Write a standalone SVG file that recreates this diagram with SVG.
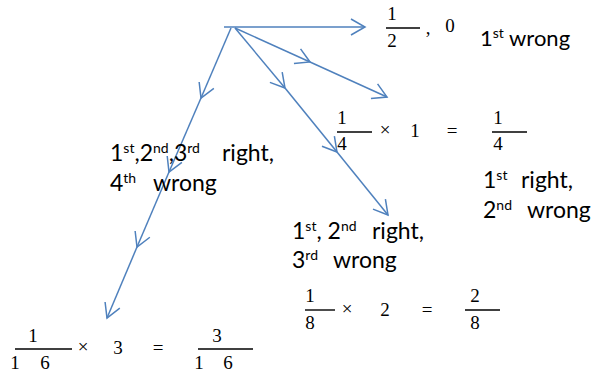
<svg xmlns="http://www.w3.org/2000/svg" width="592" height="373" viewBox="0 0 592 373">
<style>
.c{fill:none;stroke:#4f81bd;stroke-width:1.5;marker-end:url(#ah)}
.m{font-family:"Liberation Serif",serif;font-size:19px;fill:#000;text-anchor:middle}
.b{stroke:#000;stroke-width:1.4}
.t{font-family:Lato,"Liberation Sans",sans-serif;font-size:23px;fill:#000}
.s{font-size:14px}
</style>
<defs>
<marker id="ah" markerUnits="userSpaceOnUse" viewBox="-16 -10 18 20" markerWidth="18" markerHeight="20" refX="0" refY="0" orient="auto">
<path d="M-14,-8 L0,0 L-14,8" fill="none" stroke="#4f81bd" stroke-width="1.5"/>
</marker>
</defs>
<rect width="592" height="373" fill="#fff"/>
<g id="connectors">
<path class="c" d="M224,27 L365,27"/>
<path class="c" d="M235,28 L310,62"/>
<path class="c" d="M310,62 L387,97"/>
<path class="c" d="M235,28 L285,88"/>
<path class="c" d="M285,88 L337,152"/>
<path class="c" d="M337,152 L388,215"/>
<path class="c" d="M231,28 L201,98"/>
<path class="c" d="M201,98 L169,172"/>
<path class="c" d="M169,172 L137,247"/>
<path class="c" d="M137,247 L107,318"/>
</g>
<g id="half">
<text class="m" x="392" y="20">1</text>
<line class="b" x1="386" y1="28" x2="420" y2="28"/>
<text class="m" x="392" y="47">2</text>
<text class="m" x="428" y="34">,</text>
<text class="m" x="450" y="32">0</text>
</g>
<g id="first-wrong">
<text class="t" x="480" y="46" style="font-size:22px">1<tspan class="s" dy="-8">st</tspan><tspan dy="8"> wrong</tspan></text>
</g>
<g id="quarter">
<text class="m" x="342" y="124">1</text>
<line class="b" x1="337" y1="132" x2="372" y2="132"/>
<text class="m" x="342" y="150">4</text>
<text class="m" x="385" y="136">×</text>
<text class="m" x="415" y="137">1</text>
<text class="m" x="452" y="137">=</text>
<text class="m" x="498" y="124">1</text>
<line class="b" x1="492" y1="132" x2="527" y2="132"/>
<text class="m" x="498" y="150">4</text>
</g>
<g id="label-c">
<text class="t" x="483" y="188">1<tspan class="s" dy="-8">st</tspan><tspan x="521" dy="8">right,</tspan></text>
<text class="t" x="483" y="218">2<tspan class="s" dy="-8">nd</tspan><tspan x="527" dy="8">wrong</tspan></text>
</g>
<g id="label-b">
<text class="t" x="292" y="239">1<tspan class="s" dy="-8">st</tspan><tspan dy="8">, 2</tspan><tspan class="s" dy="-8">nd</tspan><tspan x="372" dy="8">right,</tspan></text>
<text class="t" x="292" y="268">3<tspan class="s" dy="-8">rd</tspan><tspan x="333" dy="8">wrong</tspan></text>
</g>
<g id="label-a">
<text class="t" x="110" y="161">1<tspan class="s" dy="-8">st</tspan><tspan dy="8">,2</tspan><tspan class="s" dy="-8">nd</tspan><tspan dy="8">,3</tspan><tspan class="s" dy="-8">rd</tspan><tspan x="222" dy="8">right,</tspan></text>
<text class="t" x="110" y="191">4<tspan class="s" dy="-8">th</tspan><tspan x="153" dy="8">wrong</tspan></text>
</g>
<g id="eighth">
<text class="m" x="310" y="302">1</text>
<line class="b" x1="305" y1="310" x2="335" y2="310"/>
<text class="m" x="310" y="329">8</text>
<text class="m" x="347" y="315">×</text>
<text class="m" x="385" y="316">2</text>
<text class="m" x="427" y="316">=</text>
<text class="m" x="475" y="302">2</text>
<line class="b" x1="465" y1="310" x2="500" y2="310"/>
<text class="m" x="475" y="329">8</text>
</g>
<g id="sixteenth">
<text class="m" x="33" y="342">1</text>
<line class="b" x1="15" y1="349" x2="72" y2="349"/>
<text class="m" x="15" y="369">1</text>
<text class="m" x="45" y="369">6</text>
<text class="m" x="83" y="353">×</text>
<text class="m" x="118" y="354">3</text>
<text class="m" x="158" y="354">=</text>
<text class="m" x="217" y="342">3</text>
<line class="b" x1="198" y1="349" x2="253" y2="349"/>
<text class="m" x="199" y="369">1</text>
<text class="m" x="228" y="369">6</text>
</g>
</svg>
